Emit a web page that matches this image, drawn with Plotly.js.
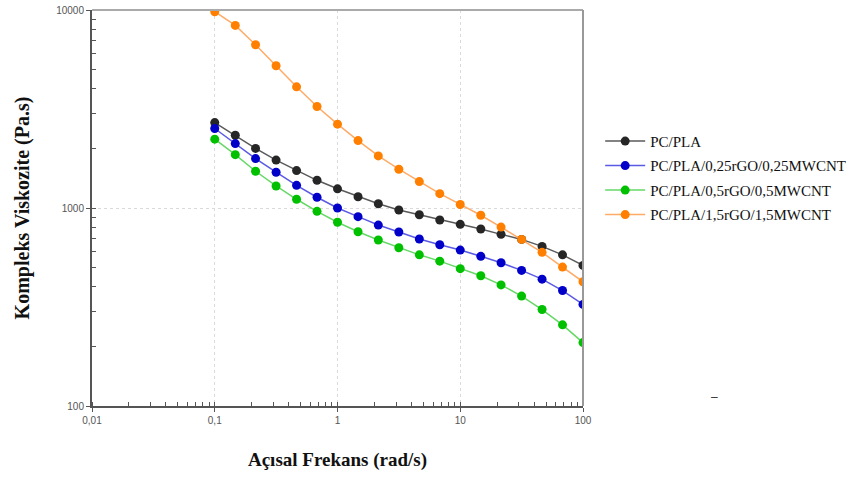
<!DOCTYPE html>
<html>
<head>
<meta charset="utf-8">
<script src="https://cdn.plot.ly/plotly-3.0.1.min.js"></script>
<style>html,body{margin:0;padding:0;background:#fff}#chart{width:868px;height:479px}</style>
</head>
<body>
<div id="chart"></div>
<script>
// Angular frequency (rad/s)
const freq = [0.1, 0.147, 0.215, 0.316, 0.464, 0.681, 1, 1.47, 2.15, 3.16, 4.64, 6.81, 10, 14.7, 21.5, 31.6, 46.4, 68.1, 100];
// Complex viscosity (Pa.s)
const pcpla = [2700, 2330, 2000, 1745, 1545, 1380, 1250, 1140, 1050, 977, 925, 870, 827, 783, 736, 694, 640, 580, 513];
const pcpla025 = [2520, 2115, 1776, 1516, 1302, 1133, 1000, 904, 820, 756, 697, 652, 613, 570, 529, 484, 437, 383, 326];
const pcpla05 = [2226, 1860, 1533, 1292, 1107, 962, 847, 759, 689, 630, 580, 539, 494, 455, 409, 359, 307, 257, 209];
const pcpla15 = [9800, 8360, 6675, 5230, 4093, 3254, 2651, 2190, 1832, 1570, 1359, 1181, 1042, 919, 801, 694, 597, 503, 424];

const seriesNames = ["PC/PLA", "PC/PLA/0,25rGO/0,25MWCNT", "PC/PLA/0,5rGO/0,5MWCNT", "PC/PLA/1,5rGO/1,5MWCNT"];
const xTickVals = [0.01, 0.1, 1, 10, 100];
const xTickText = ["0,01", "0,1", "1", "10", "100"];
const yTickVals = [100, 1000, 10000];
const yTickText = ["100", "1000", "10000"];

const markerColors = ["#262626", "#0000c8", "#00c000", "#ff8000"];
const lineColors = ["#5a5a5a", "#5a5ae6", "#66d866", "#ffaa66"];
const dataSets = [pcpla, pcpla025, pcpla05, pcpla15];

const traces = dataSets.map((ys, i) => ({
  x: freq, y: ys, name: seriesNames[i], type: "scatter", mode: "lines+markers",
  legendgroup: "g" + i,
  line: {color: lineColors[i], width: 1.5},
  marker: {color: markerColors[i], size: 9}
}));

const serif = "Liberation Serif, Times New Roman, serif";
const layout = {
  width: 868, height: 479,
  margin: {l: 92, r: 285, t: 10, b: 73},
  paper_bgcolor: "#fff", plot_bgcolor: "#fff",
  showlegend: true,
  legend: {x: 1.035, y: 0.71, xanchor: "left", yanchor: "top",
    font: {family: serif, size: 15, color: "#111"},
    tracegroupgap: 2, itemwidth: 40},
  xaxis: {
    type: "log", range: [-2, 2],
    tickvals: xTickVals, ticktext: xTickText,
    ticks: "outside", ticklen: 4, tickcolor: "#555", tickwidth: 1,
    tickfont: {family: "Liberation Sans, Arial, sans-serif", size: 10, color: "#555"},
    showline: true, linecolor: "#555", linewidth: 2,
    showgrid: true, gridcolor: "#dadada", griddash: "3px,3px", gridwidth: 1,
    minor: {ticks: "inside", ticklen: 4, tickcolor: "#555", showgrid: false, dtick: "D1"},
    zeroline: false,
    title: {text: "Açısal Frekans (rad/s)", standoff: 28,
      font: {family: serif, size: 19, color: "#111", weight: "bold"}}
  },
  yaxis: {
    type: "log", range: [2, 4],
    tickvals: yTickVals, ticktext: yTickText,
    ticks: "outside", ticklen: 4, tickcolor: "#555", tickwidth: 1,
    tickfont: {family: "Liberation Sans, Arial, sans-serif", size: 10, color: "#555"},
    showline: true, linecolor: "#555", linewidth: 2,
    showgrid: true, gridcolor: "#dadada", griddash: "3px,3px", gridwidth: 1,
    minor: {ticks: "inside", ticklen: 4, tickcolor: "#555", showgrid: false, dtick: "D1"},
    zeroline: false,
    title: {text: "Kompleks Viskozite (Pa.s)", standoff: 21,
      font: {family: serif, size: 20, color: "#111", weight: "bold"}}
  },
  shapes: [
    {type: "line", xref: "paper", yref: "paper", x0: 0, x1: 1, y0: 1, y1: 1, line: {color: "#aaaaaa", width: 2}},
    {type: "line", xref: "paper", yref: "paper", x0: 1, x1: 1, y0: 0, y1: 1, line: {color: "#999999", width: 2}}
  ],
  annotations: [
    {text: "–", xref: "paper", yref: "paper", x: 1.28, y: 0.0, showarrow: false,
     font: {family: "Liberation Sans, Arial", size: 12, color: "#333"}}
  ]
};

Plotly.newPlot("chart", traces, layout, {displayModeBar: false, staticPlot: true});
</script>
</body>
</html>
